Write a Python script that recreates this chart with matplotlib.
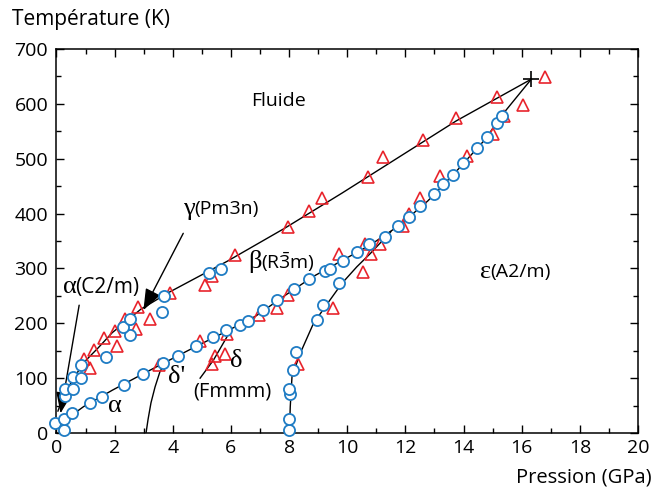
import numpy as np
import matplotlib.pyplot as plt
from matplotlib.ticker import MultipleLocator

# Points expérimentaux (cercles bleus)
circ_p = [-0.05, 0.25, 0.25, 0.53, 1.15, 1.57, 2.31, 2.97, 3.66, 4.19, 4.81, 5.40, 5.84, 6.32, 6.60,
          7.10, 7.58, 8.17, 8.69, 9.22, 9.42, 9.87, 10.35, 10.76, 11.31, 11.73, 12.13, 12.49, 12.99,
          13.29, 13.62, 13.98, 14.47, 14.81, 15.16, 15.32,
          0.29, 0.29, 0.58, 0.56, 0.85, 0.84, 1.69, 2.53, 2.28, 2.53, 3.62, 3.70, 5.24, 5.65,
          8.00, 8.00, 8.03, 8.00, 8.13, 8.24, 8.96, 9.17, 9.71]
circ_t = [18, 5, 25, 36, 54, 66, 87, 108, 127, 141, 158, 175, 187, 197, 205,
          224, 243, 262, 280, 295, 299, 313, 330, 345, 358, 377, 394, 414, 436,
          453, 470, 492, 519, 540, 565, 578,
          68, 80, 80, 102, 100, 124, 138, 178, 193, 207, 220, 250, 292, 299,
          5, 25, 71, 80, 114, 148, 206, 233, 274]

# Points expérimentaux (triangles rouges)
tri_p = [0.94, 1.15, 1.29, 1.63, 2.01, 2.09, 2.35, 2.75, 2.80, 3.22, 3.54, 3.91, 4.94, 5.12, 5.34,
         5.34, 5.45, 5.80, 5.86, 6.14, 6.95, 7.58, 7.95, 7.95, 8.32, 8.67, 9.13, 9.52, 9.73, 10.54,
         10.62, 10.71, 10.80, 11.11, 11.23, 11.92, 12.11, 12.49, 12.59, 13.20, 13.75, 14.12, 15.00,
         15.16, 15.40, 16.04, 16.81]
tri_t = [135, 119, 151, 173, 186, 159, 208, 190, 229, 207, 124, 255, 167, 270, 286,
         126, 141, 144, 181, 325, 216, 228, 375, 252, 125, 405, 428, 227, 327, 294,
         344, 467, 326, 345, 504, 378, 399, 429, 535, 468, 575, 505, 545,
         612, 577, 598, 649]

# Lignes de transition
fus_p = [0.05, 0.24, 0.54, 0.93, 1.43, 1.92, 2.91, 3.89, 4.88, 5.87, 7.84, 9.81, 11.78, 13.75, 16.33]
fus_t = [40, 68, 95, 128, 155, 183, 226, 257, 285, 313, 373, 437, 503, 569, 645]
ab_p = [0, 0.93, 1.92, 2.91, 3.89, 4.88, 5.87, 6.85, 7.84, 8.82, 9.81, 10.80, 11.78, 12.77,
        13.75, 14.74, 15.33, 16.33]
ab_t = [12, 48, 78, 106, 133, 160, 186, 213, 250, 285, 314, 343, 378, 423, 477, 535, 580, 645]
eps_p = [8.01, 8.04, 8.10, 8.38, 8.84, 9.36, 9.82, 10.33, 10.79, 11.5]
eps_t = [0, 48, 103, 145, 200, 239, 273, 303, 327, 367]
dp_p = [3.08, 3.15, 3.25, 3.39, 3.56, 3.75]
dp_t = [0, 25, 55, 84, 112, 129]
d_p = [4.94, 5.40, 5.86, 5.97]
d_t = [100, 133, 175, 188]
triple = (16.33, 645)

sans = 'Open Sans'
serif = 'Liberation Serif'
plt.rcParams['font.family'] = [sans, 'DejaVu Sans']
plt.rcParams['mathtext.fontset'] = 'custom'
plt.rcParams['mathtext.rm'] = sans

fig = plt.figure(figsize=(6.66, 4.88), dpi=100)
ax = fig.add_axes([0.0848, 0.1127, 0.8732, 0.7869])

for px, pt in [(fus_p, fus_t), (ab_p, ab_t), (eps_p, eps_t), (dp_p, dp_t), (d_p, d_t)]:
    ax.plot(px, pt, color='black', lw=1.0, zorder=2)

ax.plot(tri_p, tri_t, ls='none', marker='^', ms=8.5, mfc='none', mec='#e8242c', mew=1.2,
        clip_on=False, zorder=3)
ax.plot(circ_p, circ_t, ls='none', marker='o', ms=8, mfc='white', mec='#1f7cc4', mew=1.3,
        clip_on=False, zorder=4)
ax.plot(*triple, marker='+', ms=12, mew=1.2, color='black', zorder=5)

# Flèches
arr = dict(arrowstyle='-|>,head_length=1.3,head_width=0.5', color='black', lw=1.0,
           shrinkA=0, shrinkB=0)
ax.annotate('', xy=(0.14, 36), xytext=(0.78, 233), arrowprops=arr)
ax.annotate('', xy=(2.99, 224), xytext=(4.36, 364), arrowprops=arr)

def phase(x, y, greek, rest, size_g=19, size_r=14):
    t = ax.text(x, y, greek, family=serif, fontsize=size_g, va='center', ha='left')
    fig.canvas.draw()
    bb = t.get_window_extent()
    x2 = ax.transData.inverted().transform((bb.x1, bb.y0))[0]
    if rest:
        ax.text(x2, y, rest, fontsize=size_r, va='center', ha='left')

fig.canvas.draw()
phase(0.22, 266, '\u03b1', '(C2/m)', size_r=15)
phase(4.36, 408, '\u03b3', '(Pm3n)')
phase(6.59, 312, '\u03b2', r'(R$\bar{\mathrm{3}}$m)')
phase(14.58, 293, '\u03b5', '(A2/m)')
ax.text(3.84, 102, "\u03b4'", family=serif, fontsize=19, va='center', ha='left')
ax.text(5.97, 131, '\u03b4', family=serif, fontsize=19, va='center', ha='left')
ax.text(1.77, 50, '\u03b1', family=serif, fontsize=19, va='center', ha='left')
ax.text(4.72, 75, '(Fmmm)', fontsize=14.5, va='center', ha='left')
ax.text(7.63, 605, 'Fluide', fontsize=14, va='center', ha='center')

ax.set_xlim(0, 20)
ax.set_ylim(0, 700)
ax.xaxis.set_major_locator(MultipleLocator(2))
ax.xaxis.set_minor_locator(MultipleLocator(1))
ax.yaxis.set_major_locator(MultipleLocator(100))
ax.yaxis.set_minor_locator(MultipleLocator(50))
ax.tick_params(which='both', direction='in', top=True, right=True, labelsize=14, width=1.0)
ax.tick_params(which='major', length=6)
ax.tick_params(which='minor', length=3.5)
ax.tick_params(axis='x', pad=4)
ax.tick_params(axis='y', pad=6)
for s in ax.spines.values():
    s.set_linewidth(1.1)

fig.text(12 / 666, 1 - 20 / 488, 'Température (K)', fontsize=15, va='center', ha='left')
fig.text(652 / 666, 1 - 478 / 488, 'Pression (GPa)', fontsize=14.5, va='center', ha='right')

fig.savefig('out.png', dpi=100)
